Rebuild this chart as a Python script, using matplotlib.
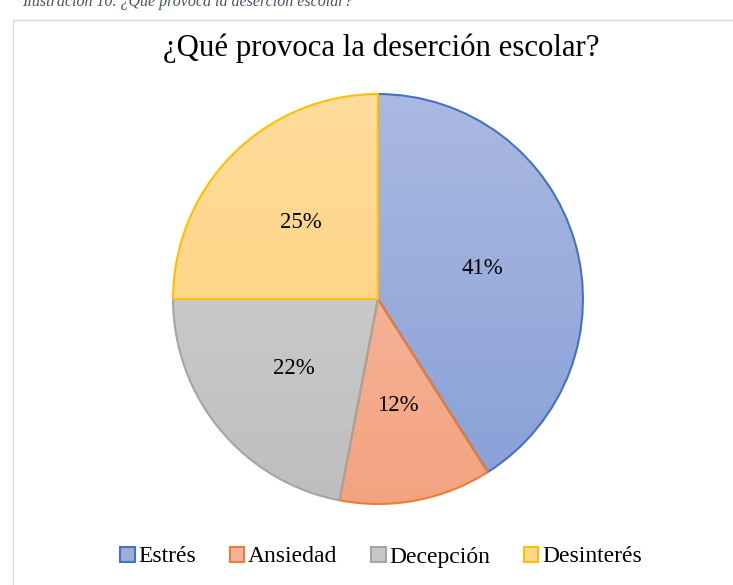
import matplotlib
matplotlib.use("Agg")
import matplotlib.pyplot as plt
import numpy as np
from matplotlib.patches import Patch, Rectangle
from matplotlib.colors import LinearSegmentedColormap

categories = ["Estrés", "Ansiedad", "Decepción", "Desinterés"]
values = [41, 12, 22, 25]
top_colors = ["#AAB9E1", "#F8C0AA", "#D4D4D4", "#FFDC9C"]
bottom_colors = ["#889FD7", "#F4A380", "#BEBEBE", "#FDD176"]
edge_colors = ["#4472C4", "#ED7D31", "#A5A5A5", "#FFC000"]
legend_face = ["#9BAEDC", "#F6B298", "#C8C8C8", "#FED88A"]

plt.rcParams['font.family'] = ['Liberation Serif', 'DejaVu Serif']

W, H = 733, 585
fig = plt.figure(figsize=(W/100, H/100), dpi=100)

# outer chart frame
fig.patches.append(Rectangle((13/W, -0.05), 1.0, 1 - 20/H + 0.05, transform=fig.transFigure,
                             fill=False, edgecolor="#D9D9D9", linewidth=1.0))

# caption cut off at top
fig.text(22/W, 1 - 6/H, "Ilustración 10. ¿Qué provoca la deserción escolar?", fontsize=11.5,
         style='italic', color="#44546A", ha='left', va='baseline')

fig.text(381/W, 1 - 48/H, "¿Qué provoca la deserción escolar?", fontsize=22.2,
         ha='center', va='center', color="#000000")

cx, cy, r = 378, 299, 207
ax = fig.add_axes([(cx - r)/W, (H - cy - r)/H, 2*r/W, 2*r/H])
wedges, texts, autotexts = ax.pie(values, startangle=90, counterclock=False,
                                  autopct='%1.0f%%', pctdistance=0.53,
                                  wedgeprops=dict(linewidth=1.5),
                                  textprops=dict(fontsize=16.5, color='black'))
ax.set_aspect('equal')
ax.axis('off')

grad = np.linspace(0, 1, 256).reshape(-1, 1)
for w, tc, bc, ec in zip(wedges, top_colors, bottom_colors, edge_colors):
    w.set_facecolor('none')
    w.set_edgecolor(ec)
    w.set_zorder(3)
    cmap = LinearSegmentedColormap.from_list('g', [tc, bc])
    im = ax.imshow(grad, cmap=cmap, extent=[-1, 1, -1, 1], origin='upper',
                   aspect='auto', zorder=1)
    im.set_clip_path(w)
for t in autotexts:
    t.set_zorder(5)
ax.set_xlim(-1.01, 1.01)
ax.set_ylim(-1.01, 1.01)

handles = [Patch(facecolor=f, edgecolor=e, linewidth=1.5) for f, e in zip(legend_face, edge_colors)]
fig.legend(handles, categories, loc='center', bbox_to_anchor=(381/W, 1 - 557/H),
           ncol=4, frameon=False, fontsize=17, handlelength=0.6, handleheight=0.6,
           handletextpad=0.15, columnspacing=1.45)

fig.savefig("out.png", dpi=100)
